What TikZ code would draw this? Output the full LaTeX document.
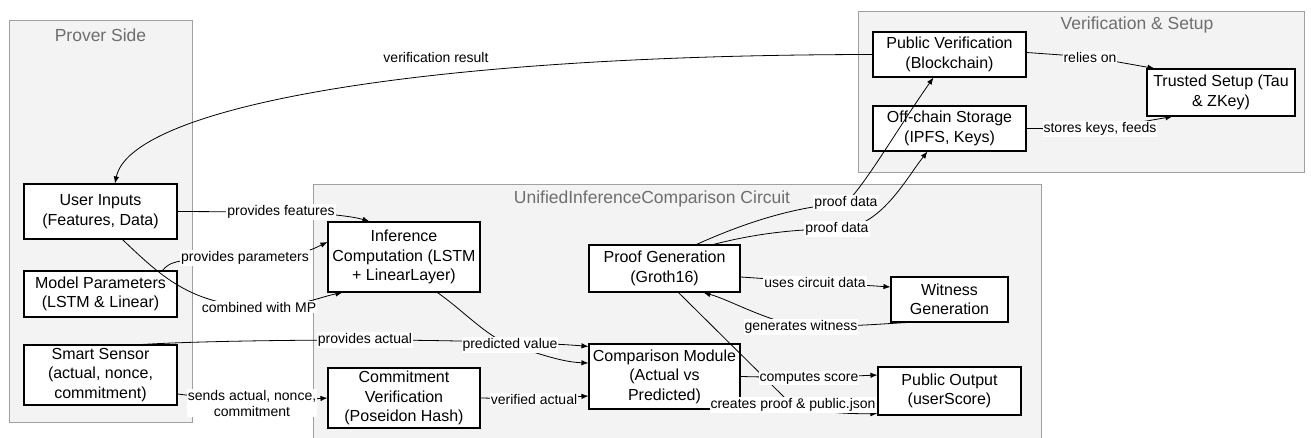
\documentclass[tikz,border=0pt]{standalone}
\usepackage{fontspec}
\setmainfont{Liberation Sans}
\usetikzlibrary{arrows.meta,calc}
\definecolor{clusterfill}{HTML}{F3F3F3}
\definecolor{clusterline}{HTML}{A0A0A0}
\definecolor{titlegray}{HTML}{6E6E6E}
\begin{document}
\begin{tikzpicture}[x=1pt,y=-1pt,
  cluster/.style={draw=clusterline, fill=clusterfill, line width=0.9pt},
  ctitle/.style={text=titlegray, font=\fontsize{17.5}{20}\selectfont, inner sep=0pt},
  box/.style={draw=black, fill=white, line width=1.1pt, align=center, inner sep=0pt,
    font=\fontsize{16}{19.5}\selectfont},
  lbl/.style={fill=white, inner sep=1pt, align=center, font=\fontsize{14}{16}\selectfont},
  edge/.style={draw=black, line width=0.8pt, -{Latex[length=7pt,width=5.5pt]}}
]
\useasboundingbox (0,0) rectangle (1311,438);

% groups
\path[cluster] (9,20.5) rectangle (192,422);
\path[cluster] (313,184) rectangle (1041,440);
\path[cluster] (858,11) rectangle (1304,172);
\node[ctitle] (tprover) at (100.5,35) {Prover Side};
\node[ctitle] (tcircuit) at (652,199) {UnifiedInferenceComparison Circuit};
\node[ctitle] (tverif) at (1137,25) {Verification \& Setup};

% prover side
\node[box, minimum width=153pt, minimum height=55pt] (ui) at (100.5,211.5) {User Inputs\\(Features, Data)};
\node[box, minimum width=153pt, minimum height=46pt] (mp) at (100.5,294) {Model Parameters\\(LSTM \& Linear)};
\node[box, minimum width=153pt, minimum height=60pt] (ss) at (100.5,375) {Smart Sensor\\(actual, nonce,\\commitment)};

% circuit
\node[box, minimum width=152pt, minimum height=70pt] (inf) at (404,257) {Inference\\Computation (LSTM\\+ LinearLayer)};
\node[box, minimum width=152pt, minimum height=60pt] (cv) at (404,398) {Commitment\\Verification\\(Poseidon Hash)};
\node[box, minimum width=151pt, minimum height=65pt] (cmp) at (664.5,376.5) {Comparison Module\\(Actual vs\\Predicted)};
\node[box, minimum width=151pt, minimum height=47pt] (pg) at (664.5,268.5) {Proof Generation\\(Groth16)};
\node[box, minimum width=117pt, minimum height=45pt] (wg) at (949.5,299.5) {Witness\\Generation};
\node[box, minimum width=143pt, minimum height=48pt] (po) at (949.5,391) {Public Output\\(userScore)};

% verification & setup
\node[box, minimum width=153pt, minimum height=45pt] (pv) at (949.5,54.5) {Public Verification\\(Blockchain)};
\node[box, minimum width=153pt, minimum height=45pt] (os) at (949.5,128.5) {Off-chain Storage\\(IPFS, Keys)};
\node[box, minimum width=148pt, minimum height=47pt] (ts) at (1221,92.5) {Trusted Setup (Tau\\\& ZKey)};

% label anchor points
\coordinate (c1) at (436,57);
\coordinate (c2) at (281,212);
\coordinate (c3) at (245,258);
\coordinate (c4) at (259,307);
\coordinate (c5) at (365,340);
\coordinate (c6) at (510,345);
\coordinate (c7) at (252,403);
\coordinate (c8) at (534,399);
\coordinate (c9) at (809,378);
\coordinate (c10) at (793,405);
\coordinate (c11) at (815,282);
\coordinate (c12) at (801,327);
\coordinate (c13) at (846,203);
\coordinate (c14) at (837,229);
\coordinate (c15) at (1090,57);
\coordinate (c16) at (1100,129);

% connectors
\draw[edge] (pv.west) .. controls (400,55) and (130,110) .. ($(ui.north)+(14.5,0)$);
\draw[edge] (ui.east) -- (c2) .. controls (330,213) and (355,217) .. ($(inf.north west)+(42,0)$);
\draw[edge] ($(mp.north west)+(139,0)$) .. controls (170,262) and (175,258) .. (c3)
  .. controls (300,258) and (315,248) .. ($(inf.west)+(0,-15)$);
\draw[edge] ($(ui.south west)+(99,0)$) .. controls (160,275) and (190,305) .. (c4)
  .. controls (300,307) and (320,297) .. ($(inf.south west)+(15,0)$);
\draw[edge] ($(ss.north west)+(119,0)$) .. controls (200,341) and (300,340) .. (c5)
  .. controls (450,340) and (550,343) .. ($(cmp.north west)+(0,3)$);
\draw[edge] ($(inf.south west)+(110,0)$) .. controls (465,312) and (485,335) .. (c6)
  .. controls (535,352) and (560,362) .. ($(cmp.west)+(0,-13.5)$);
\draw[edge] ($(ss.east)+(0,19)$) -- (c7) -- (cv.west);
\draw[edge] (cv.east) -- (c8) -- ($(cmp.west)+(0,19.5)$);
\draw[edge] (cmp.east) -- (c9) -- ($(po.west)+(0,-16)$);
\draw[edge] ($(pg.south west)+(90,0)$) -- (785,398) .. controls (800,413) and (850,414) .. ($(po.south west)+(0,-2)$);
\draw[edge] ($(pg.east)+(0,8.5)$) -- (c11) -- ($(wg.west)+(0,-12.5)$);
\draw[edge] ($(wg.south west)+(16,0)$) .. controls (880,324) and (860,326) .. (c12)
  .. controls (760,318) and (730,300) .. ($(pg.south west)+(115,0)$);
\draw[edge] ($(pg.north west)+(108,0)$) .. controls (740,225) and (790,207) .. (c13)
  .. controls (865,185) and (900,125) .. ($(pv.south west)+(61,0)$);
\draw[edge] ($(pg.north west)+(125,0)$) .. controls (750,235) and (790,229) .. (c14)
  .. controls (880,229) and (905,180) .. ($(os.south west)+(55,0)$);
\draw[edge] ($(pv.east)+(0,-2)$) -- (c15) -- ($(ts.north west)+(8,0)$);
\draw[edge] (os.east) -- (c16) -- ($(ts.south west)+(26,0)$);

% connector labels
\node[lbl, fill=none] (t1) at (c1) {verification result};
\node[lbl] (t2) at (c2) {provides features};
\node[lbl] (t3) at (c3) {provides parameters};
\node[lbl] (t4) at (c4) {combined with MP};
\node[lbl] (t5) at (c5) {provides actual};
\node[lbl] (t6) at (c6) {predicted value};
\node[lbl] (t7) at (c7) {sends actual, nonce,\\commitment};
\node[lbl] (t8) at (c8) {verified actual};
\node[lbl] (t9) at (c9) {computes score};
\node[lbl] (t10) at (c10) {creates proof \& public.json};
\node[lbl] (t11) at (c11) {uses circuit data};
\node[lbl] (t12) at (c12) {generates witness};
\node[lbl] (t13) at (c13) {proof data};
\node[lbl] (t14) at (c14) {proof data};
\node[lbl] (t15) at (c15) {relies on};
\node[lbl] (t16) at (c16) {stores keys, feeds};
\end{tikzpicture}
\end{document}
